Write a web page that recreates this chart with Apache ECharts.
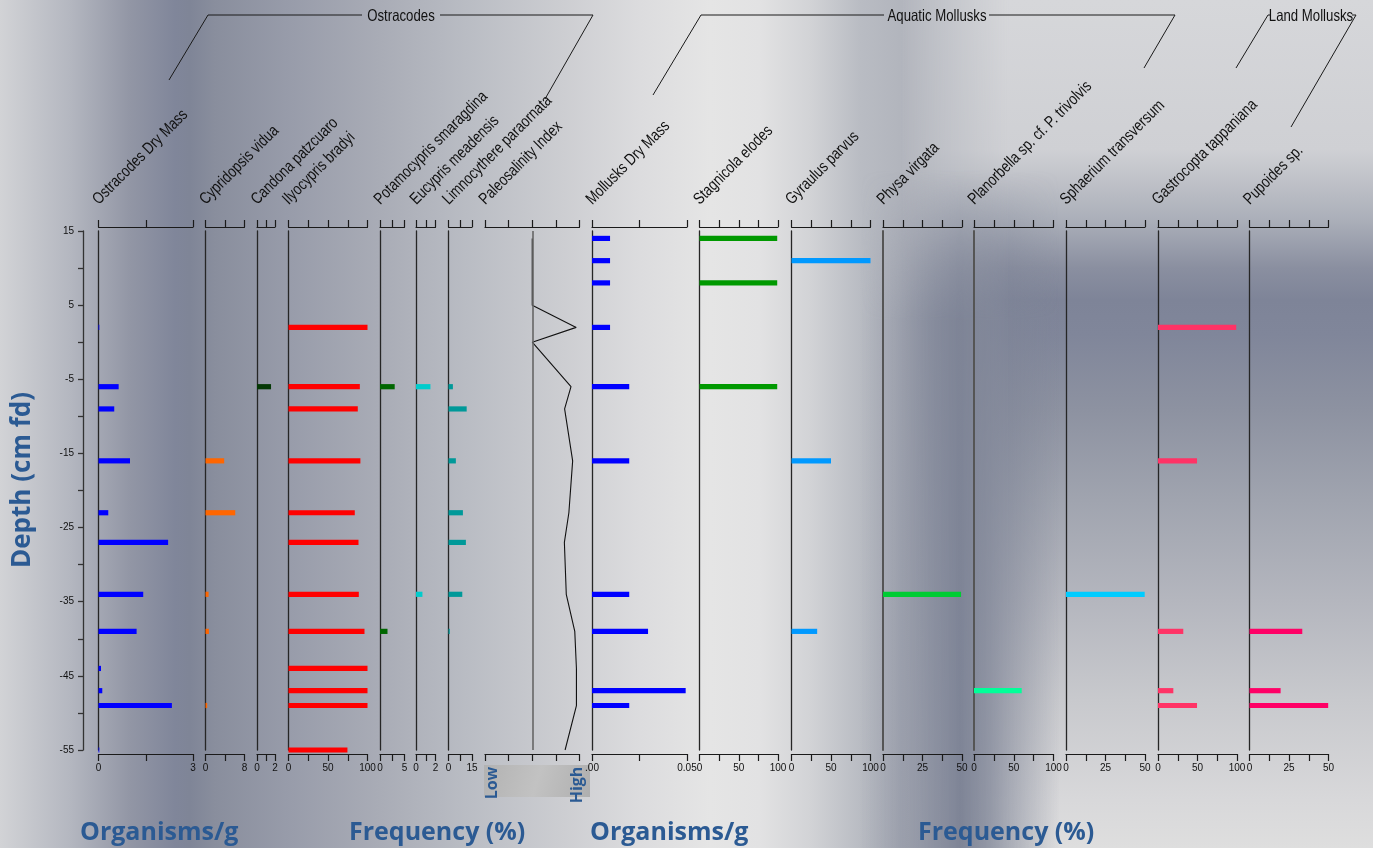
<!DOCTYPE html>
<html><head><meta charset="utf-8">
<script src="https://cdn.jsdelivr.net/npm/echarts@6/dist/echarts.min.js"></script>
<style>
html,body{margin:0;padding:0;width:1373px;height:848px;overflow:hidden;}
#wrap{position:relative;width:1373px;height:848px;
background:linear-gradient(to right,#d2d3d6 0px,#b4b7c0 70px,#9296a5 130px,#80869a 175px,#7f8597 190px,#898e9d 215px,#989caa 290px,#a9acb6 380px,#babdc4 470px,#cccdd1 560px,#dcdcde 640px,#e5e5e5 710px,#e2e2e3 760px,#d2d3d6 810px,#b9bcc3 860px,#b2b5bd 900px,#bfc1c7 1060px,#cbccd0 1200px,#d6d7da 1373px);}
.bg{position:absolute;top:0;height:848px;}
#bgR{left:900px;width:473px;
background:linear-gradient(to bottom,#d6d7da 0px,#cfd0d4 150px,#abafb9 220px,#8a8fa0 268px,#7e8498 300px,#80869a 335px,#8d92a1 410px,#a0a4af 500px,#b4b6be 600px,#c8c9cd 700px,#d8d8da 800px,#dedede 848px);
-webkit-mask-image:linear-gradient(to right,transparent 0px,#000 110px);mask-image:linear-gradient(to right,transparent 0px,#000 110px);}
#bgM{left:860px;width:200px;
background:linear-gradient(to right,rgba(126,132,150,0) 0%,rgba(126,132,150,0.75) 35%,rgba(126,132,150,1) 50%,rgba(126,132,150,0.75) 65%,rgba(126,132,150,0) 100%);
-webkit-mask-image:linear-gradient(to bottom,transparent 170px,#000 320px,#000 848px);mask-image:linear-gradient(to bottom,transparent 170px,#000 320px,#000 848px);}
#chart{position:absolute;left:0;top:0;width:1373px;height:848px;}
</style></head><body>
<div id="wrap"><div class="bg" id="bgR"></div><div class="bg" id="bgM"></div><div id="chart"></div></div>
<script>
// ---------------- DATA ----------------
const depthAxisLabels = ['15', '5', '-5', '-15', '-25', '-35', '-45', '-55'];

const ostracodeDepths = [2, -6, -9, -16, -23, -27, -34, -39, -44, -47, -49, -55];
const ostracodesDryMass      = [0.02, 0.64, 0.50, 1.00, 0.31, 2.21, 1.42, 1.21, 0.08, 0.12, 2.33, 0.02];
const cypridopsisVidua       = [0, 0, 0, 3.83, 6.1, 0, 0.63, 0.7, 0, 0, 0.35, 0];
const candonaPatzcuaro       = [0, 1.56, 0, 0, 0, 0, 0, 0, 0, 0, 0, 0];
const ilyocyprisBradyi       = [100, 90.3, 87.7, 91, 83.9, 88.6, 89, 96.2, 100, 100, 100, 74.6];
const potamocyprisSmaragdina = [0, 3.0, 0, 0, 0, 0, 0, 1.53, 0, 0, 0, 0];
const eucyprisMeadensis      = [0, 1.48, 0, 0, 0, 0, 0.66, 0, 0, 0, 0, 0];
const limnocythereParaornata = [0, 2.8, 11.6, 4.7, 9.2, 11.1, 8.8, 0.8, 0, 0, 0, 0];

const salinityDepths     = [14, 11, 8, 5, 2, 0, -6, -9, -16, -23, -27, -34, -39, -44, -47, -49, -55];
const paleosalinityIndex = [2, 2, 2, 2, 3.86, 2, 3.64, 3.37, 3.71, 3.55, 3.36, 3.44, 3.80, 3.87, 3.87, 3.87, 3.39];

const molluskDepths = [14, 11, 8, 2, -6, -16, -34, -39, -47, -49];
const molluskDryMass        = [0.0095, 0.0095, 0.0095, 0.0095, 0.0196, 0.0196, 0.0196, 0.0295, 0.0493, 0.0196];
const stagnicolaElodes      = [99, 0, 99, 0, 99, 0, 0, 0, 0, 0];
const gyraulusParvus        = [0, 100, 0, 0, 0, 50, 0, 32.5, 0, 0];
const physaVirgata          = [0, 0, 0, 0, 0, 0, 49.4, 0, 0, 0];
const planorbellaTrivolvis  = [0, 0, 0, 0, 0, 0, 0, 0, 60, 0];
const sphaeriumTransversum  = [0, 0, 0, 0, 0, 0, 49.8, 0, 0, 0];
const gastrocoptaTappaniana = [0, 0, 0, 99, 0, 49.4, 0, 32, 19.4, 49.4];
const pupoidesSp            = [0, 0, 0, 0, 0, 0, 0, 33.4, 19.7, 49.8];

const columnTitles = ['Ostracodes Dry Mass', 'Cypridopsis vidua', 'Candona patzcuaro', 'Ilyocypris bradyi',
  'Potamocypris smaragdina', 'Eucypris meadensis', 'Limnocythere paraornata', 'Paleosalinity Index',
  'Mollusks Dry Mass', 'Stagnicola elodes', 'Gyraulus parvus', 'Physa virgata',
  'Planorbella sp. cf. P. trivolvis', 'Sphaerium transversum', 'Gastrocopta tappaniana', 'Pupoides sp.'];
const scaleMax  = [3, 8, 2, 100, 5, 2, 15, 4, 0.05, 100, 100, 50, 100, 50, 100, 50];
const scaleStep = [1.5, 4, 1, 25, 2.5, 1, 7.5, 1, 0.025, 25, 25, 12.5, 25, 12.5, 25, 12.5];
const bottomTickLabels = [['0','3'], ['0','8'], ['0','2'], ['0','50','100'], ['0','5'], ['0','2'], ['0','15'], [],
  ['.00','0.05'], ['0','50','100'], ['0','50','100'], ['0','25','50'], ['0','50','100'], ['0','25','50'], ['0','50','100'], ['0','25','50']];

// ---------------- LAYOUT / STYLE ----------------
const panels = [
  {left: 98.5, width: 94.5}, {left: 205.5, width: 39}, {left: 257, width: 18}, {left: 288.5, width: 79},
  {left: 380, width: 24.5}, {left: 416, width: 19.5}, {left: 448.5, width: 23.5}, {left: 485, width: 94.5},
  {left: 592, width: 95}, {left: 699.5, width: 78.5}, {left: 791.5, width: 79}, {left: 883, width: 79},
  {left: 974, width: 79.5}, {left: 1066, width: 79}, {left: 1158, width: 79}, {left: 1249.5, width: 79}
];
const barSeries = [
  {g: 0, depths: ostracodeDepths, vals: ostracodesDryMass, color: '#0000ff'},
  {g: 1, depths: ostracodeDepths, vals: cypridopsisVidua, color: '#ff6600'},
  {g: 2, depths: ostracodeDepths, vals: candonaPatzcuaro, color: '#053805'},
  {g: 3, depths: ostracodeDepths, vals: ilyocyprisBradyi, color: '#ff0000'},
  {g: 4, depths: ostracodeDepths, vals: potamocyprisSmaragdina, color: '#006600'},
  {g: 5, depths: ostracodeDepths, vals: eucyprisMeadensis, color: '#00cccc'},
  {g: 6, depths: ostracodeDepths, vals: limnocythereParaornata, color: '#009999'},
  {g: 8, depths: molluskDepths, vals: molluskDryMass, color: '#0000ff'},
  {g: 9, depths: molluskDepths, vals: stagnicolaElodes, color: '#009900'},
  {g: 10, depths: molluskDepths, vals: gyraulusParvus, color: '#0099ff'},
  {g: 11, depths: molluskDepths, vals: physaVirgata, color: '#00cc33'},
  {g: 12, depths: molluskDepths, vals: planorbellaTrivolvis, color: '#00ff99'},
  {g: 13, depths: molluskDepths, vals: sphaeriumTransversum, color: '#00ccff'},
  {g: 14, depths: molluskDepths, vals: gastrocoptaTappaniana, color: '#ff3366'},
  {g: 15, depths: molluskDepths, vals: pupoidesSp, color: '#ff0066'}
];
const SANS = '"Liberation Sans", Arial, sans-serif';
const BOLD = '"Open Sans", "Noto Sans", sans-serif';
const BLUE = '#2b5a93';
const TOP = 231, BOTTOM = 848 - 750;
const NARROW_SCALE = 0.8;

const grid = [], xAxis = [], yAxis = [], series = [];
panels.forEach((p, g) => {
  grid.push({left: p.left, width: p.width, top: TOP, bottom: BOTTOM, containLabel: false, outerBoundsMode: 'none'});
  const max = scaleMax[g], step = scaleStep[g], labs = bottomTickLabels[g];
  const targets = labs.length === 3 ? [0, max / 2, max] : labs.length === 2 ? [0, max] : [];
  const common = {type: 'value', gridIndex: g, min: 0, max: max, interval: step,
    axisLine: {show: true, onZero: false, lineStyle: {color: '#1a1a1a', width: 1.2}},
    axisTick: {show: true, length: 7, inside: false, lineStyle: {color: '#1a1a1a', width: 1.2}},
    splitLine: {show: false}};
  xAxis.push(Object.assign({}, common, {position: 'bottom', offset: 4,
    axisLabel: {show: true, margin: 9, color: '#111', fontSize: 10, fontFamily: SANS, hideOverlap: false,
      showMinLabel: true, showMaxLabel: true,
      formatter: v => { const k = targets.findIndex(t => Math.abs(t - v) < 1e-9); return k >= 0 ? labs[k] : ''; }}}));
  xAxis.push(Object.assign({}, common, {position: 'top', offset: 4, axisLabel: {show: false}}));
  yAxis.push({type: 'value', gridIndex: g, min: -55, max: 15, position: 'left',
    axisLine: {show: g !== 7, onZero: false, lineStyle: {color: (g === 11 || g === 12) ? '#555' : '#262626', width: (g === 11 || g === 12) ? 2 : 1.3}},
    axisTick: {show: false}, axisLabel: {show: false}, splitLine: {show: false}});
});
// main depth axis
grid.push({left: 83, width: 1, top: TOP, bottom: BOTTOM, containLabel: false, outerBoundsMode: 'none'});
xAxis.push({type: 'value', gridIndex: 16, show: false, min: 0, max: 1});
yAxis.push({type: 'value', gridIndex: 16, min: -55, max: 15, interval: 5, position: 'left',
  axisLine: {show: true, onZero: false, lineStyle: {color: '#333', width: 1.3}},
  axisTick: {show: true, length: 5, lineStyle: {color: '#333', width: 1.3}},
  splitLine: {show: false},
  axisLabel: {show: true, margin: 9, color: '#111', fontSize: 10, fontFamily: SANS, showMinLabel: true, showMaxLabel: true,
    formatter: v => depthAxisLabels.includes(String(v)) ? String(v) : ''}});

function barRenderer(color) {
  return function (params, api) {
    const d = api.value(0), v = api.value(1);
    if (!(v > 0)) return null;
    const a = api.coord([0, d]), b = api.coord([v, d]);
    return {type: 'rect', shape: {x: a[0], y: a[1] - 2.6, width: Math.max(b[0] - a[0], 0.8), height: 5.2},
      style: {fill: color}};
  };
}
barSeries.forEach(s => {
  series.push({type: 'custom', xAxisIndex: 2 * s.g, yAxisIndex: s.g, silent: true,
    renderItem: barRenderer(s.color), encode: {x: 1, y: 0},
    data: s.depths.map((d, i) => [d, s.vals[i]])});
});
series.push({type: 'line', xAxisIndex: 14, yAxisIndex: 7, symbol: 'none', silent: true,
  lineStyle: {color: '#111', width: 1.1},
  data: salinityDepths.map((d, i) => [paleosalinityIndex[i], d]),
  markLine: {silent: true, symbol: 'none', label: {show: false}, lineStyle: {color: '#666', width: 1.6, type: 'solid'},
    data: [{xAxis: 2}]}});

// ---------------- GRAPHICS (titles, headers) ----------------
const graphic = [];
columnTitles.forEach((t, i) => {
  graphic.push({type: 'text', x: panels[i].left + 3, y: 208, rotation: Math.PI / 4, scaleX: NARROW_SCALE, silent: true,
    style: {text: t, fontSize: 16.5, fontFamily: SANS, fill: '#111', align: 'left', verticalAlign: 'bottom'}});
});
const hdrLine = pts => ({type: 'polyline', silent: true, shape: {points: pts}, style: {stroke: '#1a1a1a', lineWidth: 1, fill: null}});
const hdrText = (t, x) => ({type: 'text', x: x, y: 16, scaleX: NARROW_SCALE, silent: true,
  style: {text: t, fontSize: 16.5, fontFamily: SANS, fill: '#111', align: 'center', verticalAlign: 'middle'}});
graphic.push(hdrLine([[169, 80], [208, 15], [362, 15]]), hdrLine([[440, 15], [593, 15], [545, 99]]), hdrText('Ostracodes', 401));
graphic.push(hdrLine([[653, 95], [701, 15], [884, 15]]), hdrLine([[989, 15], [1175, 15], [1144, 68]]), hdrText('Aquatic Mollusks', 937));
graphic.push(hdrLine([[1236, 68], [1268, 15], [1270, 15]]), hdrLine([[1352, 15], [1356, 15], [1291, 127]]), hdrText('Land Mollusks', 1311));
// axis titles
graphic.push({type: 'text', x: 23, y: 480, rotation: Math.PI / 2, silent: true,
  style: {text: 'Depth (cm fd)', fontSize: 26, fontWeight: 'bold', fontFamily: BOLD, fill: BLUE, align: 'center', verticalAlign: 'middle'}});
[['Organisms/g', 80], ['Frequency (%)', 349], ['Organisms/g', 590], ['Frequency (%)', 918]].forEach(([t, x]) => {
  graphic.push({type: 'text', x: x, y: 833, silent: true,
    style: {text: t, fontSize: 25, fontWeight: 'bold', fontFamily: BOLD, fill: BLUE, align: 'left', verticalAlign: 'middle'}});
});
graphic.push({type: 'rect', silent: true, shape: {x: 484, y: 765, width: 106, height: 32},
  style: {fill: {type: 'linear', x: 0, y: 0, x2: 1, y2: 1, colorStops: [
    {offset: 0, color: '#b2b2b2'}, {offset: 0.5, color: '#c2c2c2'}, {offset: 1, color: '#afafaf'}]}}});
graphic.push({type: 'text', x: 492, y: 783, rotation: Math.PI / 2, silent: true,
  style: {text: 'Low', fontSize: 16, fontWeight: 'bold', fontFamily: BOLD, fill: BLUE, align: 'center', verticalAlign: 'middle'}});
graphic.push({type: 'text', x: 577, y: 785, rotation: Math.PI / 2, silent: true,
  style: {text: 'High', fontSize: 16, fontWeight: 'bold', fontFamily: BOLD, fill: BLUE, align: 'center', verticalAlign: 'middle'}});

const chart = echarts.init(document.getElementById('chart'), null, {renderer: 'canvas'});
chart.setOption({backgroundColor: 'transparent', animation: false, grid, xAxis, yAxis, series, graphic});
</script>
</body></html>
